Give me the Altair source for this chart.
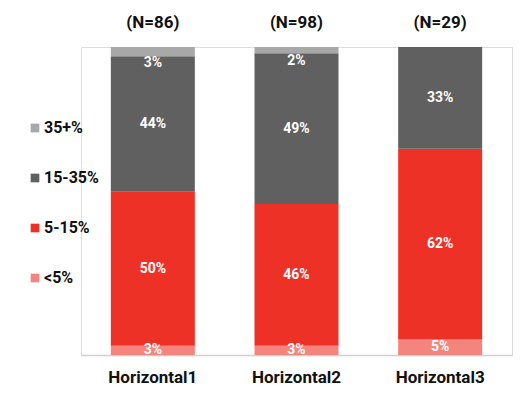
import altair as alt
import pandas as pd

categories = ["Horizontal1", "Horizontal2", "Horizontal3"]
n_labels = ["(N=86)", "(N=98)", "(N=29)"]
groups = ["<5%", "5-15%", "15-35%", "35+%"]
vals_lt5 = [3, 3, 5]
vals_5_15 = [50, 46, 62]
vals_15_35 = [44, 49, 33]
vals_35p = [3, 2, 0]
colors = ["#f4847e", "#ee3127", "#606060", "#a8a8a8"]

series = [vals_lt5, vals_5_15, vals_15_35, vals_35p]
rows = []
for gi, (g, vals) in enumerate(zip(groups, series)):
    for c, v in zip(categories, vals):
        rows.append({"cat": c, "group": g, "order": gi, "value": v / 100.0,
                     "label": f"{v}%" if v > 0 else ""})
df = pd.DataFrame(rows)
ndf = pd.DataFrame({"cat": categories, "n": n_labels, "top": [1.0] * 3})

FONT = "Roboto"

xenc = alt.X("cat:N", sort=categories,
             scale=alt.Scale(paddingInner=0.415, paddingOuter=0.2075),
             axis=alt.Axis(title=None, labelAngle=0, labelFontSize=17,
                           labelFontWeight="bold", labelColor="#111111",
                           labelFont=FONT, labelPadding=14, ticks=False,
                           domainColor="#d0d0d0", domainWidth=1.5))

bars = alt.Chart(df).mark_bar(size=84).encode(
    x=xenc,
    y=alt.Y("value:Q", stack="zero", scale=alt.Scale(domain=[0, 1], nice=False),
            axis=None),
    color=alt.Color("group:N", sort=groups,
                    scale=alt.Scale(domain=groups, range=colors),
                    legend=alt.Legend(title=None, orient="none",
                                      legendX=-54, legendY=73,
                                      direction="vertical",
                                      symbolType="square", symbolSize=75,
                                      symbolStrokeWidth=0,
                                      labelFontSize=16, labelFontWeight="bold",
                                      labelFont=FONT, labelColor="#111111",
                                      rowPadding=34, labelOffset=1,
                                      values=groups[::-1])),
    order=alt.Order("order:Q"),
)

stacked = alt.Chart(df).transform_stack(
    stack="value", groupby=["cat"], as_=["y0", "y1"], sort=[alt.SortField("order")]
).transform_calculate(mid="(datum.y0 + datum.y1) / 2")

mid_labels = stacked.transform_filter(alt.datum.group != "35+%").mark_text(
    color="white", fontWeight="bold", fontSize=14, font=FONT
).encode(x=alt.X("cat:N", sort=categories), y=alt.Y("mid:Q"), text="label:N")

top_labels = stacked.transform_filter(alt.datum.group == "35+%").mark_text(
    color="white", fontWeight="bold", fontSize=14, font=FONT, dy=11
).encode(x=alt.X("cat:N", sort=categories), y=alt.Y("mid:Q"), text="label:N")

n_text = alt.Chart(ndf).mark_text(
    fontWeight="bold", fontSize=17, font=FONT, color="#111111", dy=-24
).encode(x=alt.X("cat:N", sort=categories), y=alt.Y("top:Q"), text="n:N")

chart = alt.layer(bars, mid_labels, top_labels, n_text).properties(
    width=431, height=308, padding={"left": 19, "top": 6, "right": 5, "bottom": 5}
).configure_view(stroke=None).configure(font=FONT)

chart.save("out.html", embed_options={"renderer": "svg", "actions": False})
